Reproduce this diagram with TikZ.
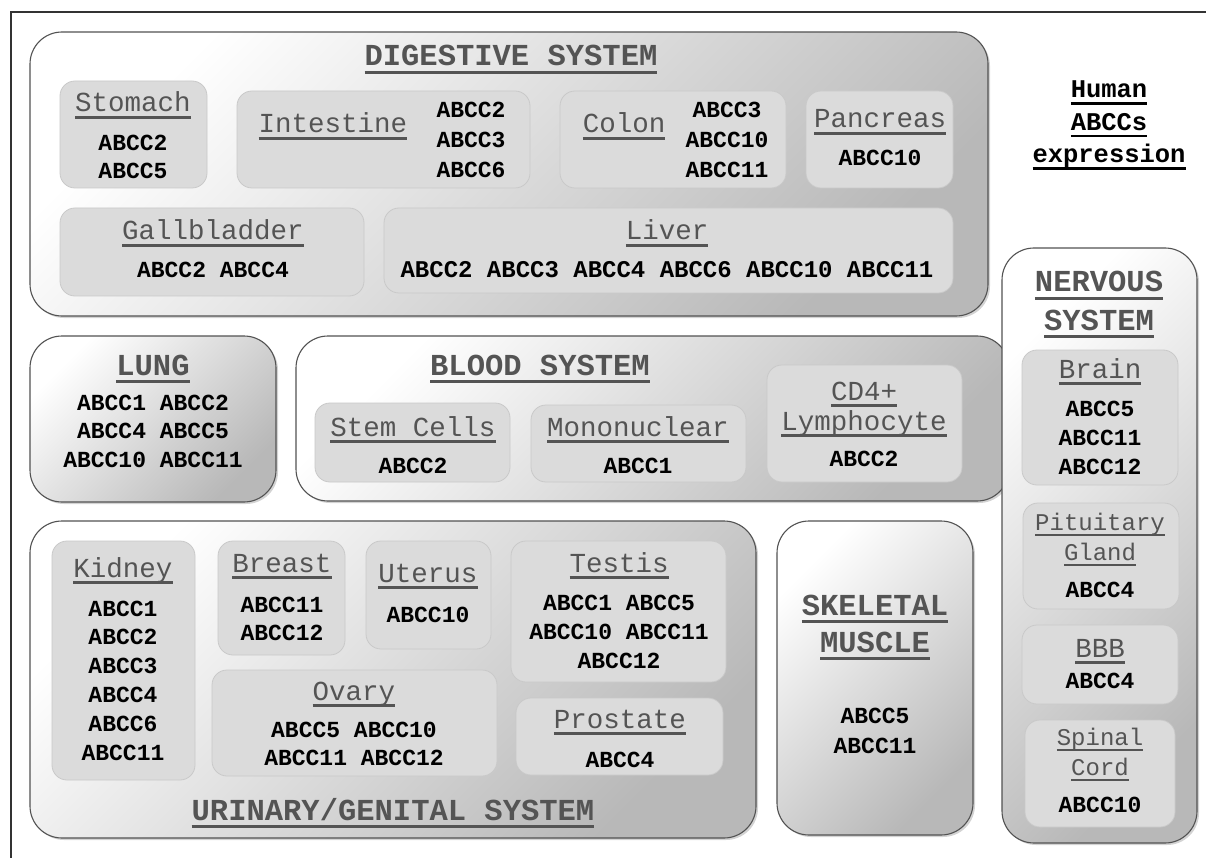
\documentclass[tikz,border=0pt]{standalone}
\usepackage{fontspec}
\setmainfont{Liberation Mono}
\usetikzlibrary{fit,shadows}
\newcommand\uln[1]{\setbox0=\hbox{#1}\dp0=0pt\vtop{\copy0\kern0.16em\hrule height0.11em}}
\newcommand\bigf[2]{\bfseries\fontsize{#1}{#2}\selectfont}
\newcommand\subf[2]{\fontsize{#1}{#2}\selectfont}
\newcommand\genf[2]{\bfseries\fontsize{#1}{#2}\selectfont}
\tikzset{
  frame/.style={draw=black!80, line width=1.5pt},
  obox/.style={draw=black!68, line width=1.1pt, rounded corners=32pt,
    left color=white, right color=black!28, shading angle=45,
    drop shadow={opacity=0.35, shadow xshift=2pt, shadow yshift=-2pt}, inner sep=0pt},
  ibox/.style={draw=black!21, fill=black!14, line width=0.8pt, rounded corners=15pt, inner sep=0pt},
  big/.style={font=\bigf{30.5}{37}, text=black!67, align=center, anchor=base, inner sep=0pt},
  sub/.style={font=\subf{27.5}{30}, text=black!67, align=center, anchor=base, inner sep=0pt},
  gene/.style={font=\genf{23}{29}, text=black, align=center, anchor=base, inner sep=0pt},
  hum/.style={font=\genf{25.5}{32.5}, text=black, align=center, anchor=base, inner sep=0pt},
}
\begin{document}
\begin{tikzpicture}[x=1pt,y=-1pt]
\useasboundingbox (0,0) rectangle (1206,858);
% frame
\coordinate (fA) at (11,858);
\coordinate (fB) at (11,12);
\coordinate (fC) at (1206,12);
\draw[frame] (fA) -- (fB) -- (fC);
% outer boxes
\node[obox, fit={(30,32) (988,316)}] (dig) {};
\node[obox, fit={(30,336) (276,502)}] (lung) {};
\node[obox, fit={(296,336) (1009,501)}] (blood) {};
\node[obox, fit={(30,521) (756,838)}] (uro) {};
\node[obox, fit={(777,521) (973,835)}] (skel) {};
\node[obox, fit={(1002,248) (1197,843)}] (nerv) {};
% inner boxes
\node[ibox, fit={(60,81) (207,188)}] (stom) {};
\node[ibox, fit={(237,91) (530,188)}] (inte) {};
\node[ibox, fit={(560,91) (786,188)}] (colo) {};
\node[ibox, fit={(806,91) (953,188)}] (panc) {};
\node[ibox, fit={(60,208) (364,296)}] (gall) {};
\node[ibox, fit={(384,208) (953,293)}] (live) {};
\node[ibox, fit={(315,403) (510,482)}] (stem) {};
\node[ibox, fit={(531,405) (746,482)}] (mono) {};
\node[ibox, fit={(767,365) (962,482)}] (cdf) {};
\node[ibox, fit={(52,541) (195,780)}] (kidn) {};
\node[ibox, fit={(218,541) (345,655)}] (brea) {};
\node[ibox, fit={(366,541) (491,649)}] (uter) {};
\node[ibox, fit={(511,541) (726,682)}] (test) {};
\node[ibox, fit={(212,670) (497,776)}] (ovar) {};
\node[ibox, fit={(516,698) (723,775)}] (pros) {};
\node[ibox, fit={(1022,350) (1178,485)}] (brai) {};
\node[ibox, fit={(1023,503) (1179,609)}] (pitu) {};
\node[ibox, fit={(1022,625) (1178,704)}] (bbb) {};
\node[ibox, fit={(1025,720) (1175,827)}] (spin) {};
% digestive
\node[big] (tdig) at (511,66) {\uln{DIGESTIVE SYSTEM}};
\node[sub] (tstom) at (133,112) {\uln{Stomach}};
\node[gene, font=\genf{23}{28}] (gstom) at (133,179) {ABCC2\\ABCC5};
\node[sub] (tinte) at (333,133) {\uln{Intestine}};
\node[gene, font=\genf{23}{30}] (ginte) at (471,178) {ABCC2\\ABCC3\\ABCC6};
\node[sub] (tcolo) at (624,133) {\uln{Colon}};
\node[gene, font=\genf{23}{30}] (gcolo) at (727,178) {ABCC3\\ABCC10\\ABCC11};
\node[sub] (tpanc) at (880,128) {\uln{Pancreas}};
\node[gene] (gpanc) at (880,166) {ABCC10};
\node[sub] (tgall) at (213,240) {\uln{Gallbladder}};
\node[gene] (ggall) at (213,278) {ABCC2 ABCC4};
\node[sub] (tlive) at (667,240) {\uln{Liver}};
\node[gene, font=\genf{24}{29}] (glive) at (667,278) {ABCC2 ABCC3 ABCC4 ABCC6 ABCC10 ABCC11};
% title
\node[hum] (thum) at (1109,163) {\uln{Human}\\\uln{ABCCs}\\\uln{expression}};
% lung
\node[big] (tlung) at (153,375) {\uln{LUNG}};
\node[gene, font=\genf{23}{28.5}] (glung) at (153,467) {ABCC1 ABCC2\\ABCC4 ABCC5\\ABCC10 ABCC11};
% blood
\node[big] (tblood) at (540,375) {\uln{BLOOD SYSTEM}};
\node[sub] (tstem) at (413,436) {\uln{Stem Cells}};
\node[gene] (gstem) at (413,473) {ABCC2};
\node[sub] (tmono) at (638,436) {\uln{Mononuclear}};
\node[gene] (gmono) at (638,473) {ABCC1};
\node[sub] (tcd) at (864,430) {\uln{CD4+}\\\uln{Lymphocyte}};
\node[gene] (gcd) at (864,466) {ABCC2};
% urinary / genital
\node[big] (turo) at (393,820) {\uln{URINARY/GENITAL SYSTEM}};
\node[sub] (tkidn) at (123,577) {\uln{Kidney}};
\node[gene, font=\genf{23}{28.8}] (gkidn) at (123,760) {ABCC1\\ABCC2\\ABCC3\\ABCC4\\ABCC6\\ABCC11};
\node[sub] (tbrea) at (282,572) {\uln{Breast}};
\node[gene, font=\genf{23}{28}] (gbrea) at (282,640) {ABCC11\\ABCC12};
\node[sub] (tuter) at (428,582) {\uln{Uterus}};
\node[gene] (guter) at (428,622) {ABCC10};
\node[sub] (ttest) at (619,572) {\uln{Testis}};
\node[gene] (gtest) at (619,668) {ABCC1 ABCC5\\ABCC10 ABCC11\\ABCC12};
\node[sub] (tovar) at (354,700) {\uln{Ovary}};
\node[gene, font=\genf{23}{28}] (govar) at (354,765) {ABCC5 ABCC10\\ABCC11 ABCC12};
\node[sub] (tpros) at (620,728) {\uln{Prostate}};
\node[gene] (gpros) at (620,767) {ABCC4};
% skeletal muscle
\node[big] (tskel) at (875,652) {\uln{SKELETAL}\\\uln{MUSCLE}};
\node[gene, font=\genf{23}{30}] (gskel) at (875,753) {ABCC5\\ABCC11};
% nervous system
\node[big, font=\bigf{30.5}{38}] (tnerv) at (1099,330) {\uln{NERVOUS}\\\uln{SYSTEM}};
\node[sub] (tbrai) at (1100,378) {\uln{Brain}};
\node[gene] (gbrai) at (1100,474) {ABCC5\\ABCC11\\ABCC12};
\node[sub, font=\subf{24}{30}] (tpitu) at (1100,560) {\uln{Pituitary}\\\uln{Gland}};
\node[gene] (gpitu) at (1100,597) {ABCC4};
\node[sub] (tbbb) at (1100,657) {\uln{BBB}};
\node[gene] (gbbb) at (1100,688) {ABCC4};
\node[sub, font=\subf{24}{30}] (tspin) at (1100,775) {\uln{Spinal}\\\uln{Cord}};
\node[gene] (gspin) at (1100,812) {ABCC10};
\end{tikzpicture}
\end{document}
